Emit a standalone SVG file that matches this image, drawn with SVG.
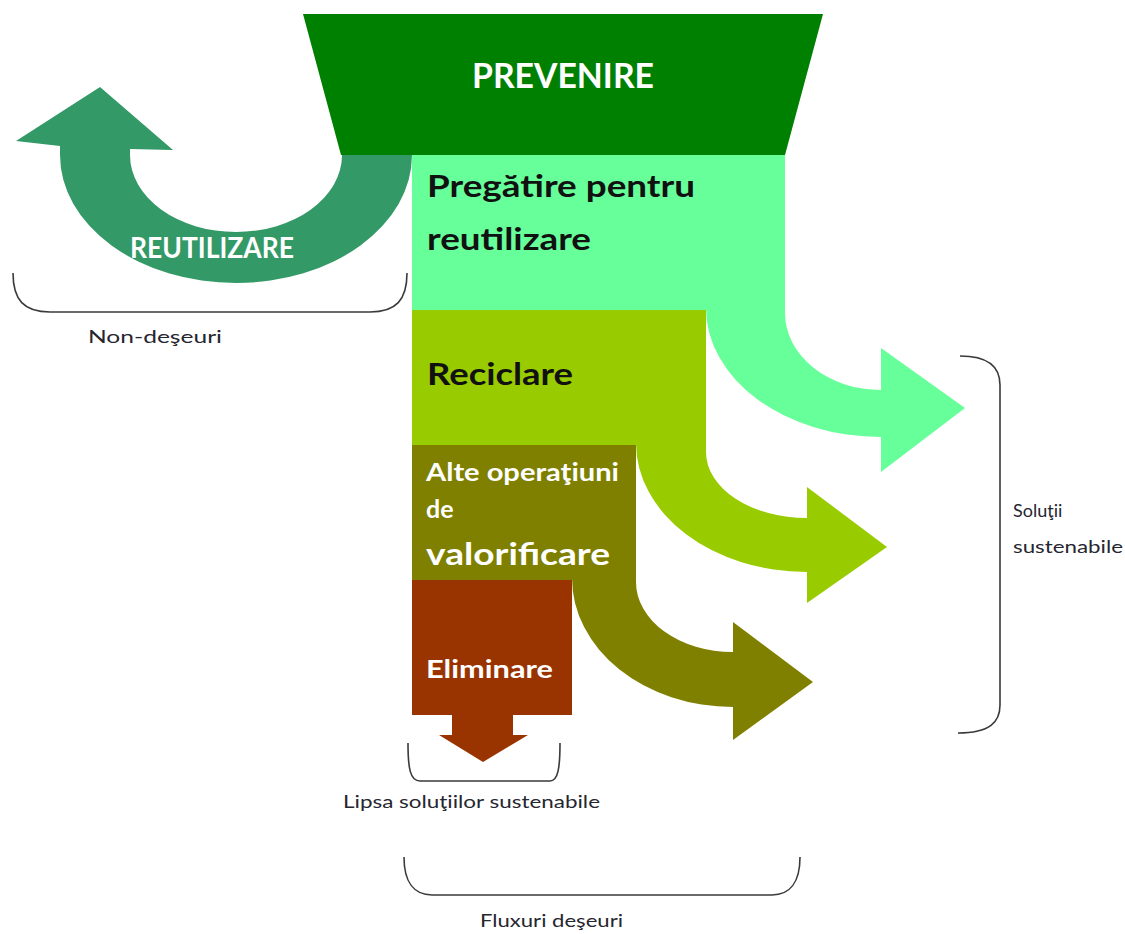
<svg xmlns="http://www.w3.org/2000/svg" width="1125" height="934" viewBox="0 0 1125 934">
<style>
.lbl{font-family:Lato,"Open Sans","Liberation Sans",sans-serif;font-weight:700}
.w{fill:#ffffff}
.k{fill:#111111}
.sm{font-family:Lato,"Open Sans","Liberation Sans",sans-serif;font-size:18px;fill:#262630}
.br{fill:none;stroke:#3a3a3a;stroke-width:1.6}
</style>
<rect width="1125" height="934" fill="#ffffff"/>
<g id="connectors">
  <path id="arrow-reutilizare" fill="#339966" d="M412,155 A176,128 0 0 1 60,155 L60,146 L16,141 L100,87 L173,150 L130,149 L130,155 A106,77 0 0 0 342,155 Z"/>
  <path id="arrow-pregatire" fill="#66FF99" d="M706,308 A175,129 0 0 0 881,437 L881,472 L965,408 L881,348 L881,390 A96,77 0 0 1 785,313 L785,308 Z"/>
  <path id="arrow-reciclare" fill="#99CC00" d="M636,443 A171,129 0 0 0 807,572 L807,603 L887,547 L807,487 L807,518 A101,66 0 0 1 706,452 L706,443 Z"/>
  <path id="arrow-alte" fill="#808000" d="M572,578 A161,129 0 0 0 733,707 L733,740 L813,682 L733,622 L733,652 A97,70 0 0 1 636,582 L636,578 Z"/>
  <path id="arrow-eliminare" fill="#993300" d="M452,713 L513,713 L513,735 L528,735 L483,762 L439,735 L452,735 Z"/>
</g>
<g id="node-prevenire">
  <polygon fill="#008000" points="303,14 823,14 785,155 341,155"/>
  <text class="lbl w" x="563" y="88" font-size="34" text-anchor="middle" textLength="182" lengthAdjust="spacingAndGlyphs">PREVENIRE</text>
</g>
<g id="node-pregatire">
  <rect x="412" y="155" width="373" height="155" fill="#66FF99"/>
  <text class="lbl k" x="427" y="197" font-size="31" textLength="268" lengthAdjust="spacingAndGlyphs">Pregătire pentru</text>
  <text class="lbl k" x="427" y="250" font-size="31" textLength="164" lengthAdjust="spacingAndGlyphs">reutilizare</text>
</g>
<g id="node-reciclare">
  <rect x="412" y="310" width="294" height="135" fill="#99CC00"/>
  <text class="lbl k" x="427" y="385" font-size="31" textLength="146" lengthAdjust="spacingAndGlyphs">Reciclare</text>
</g>
<g id="node-alte">
  <rect x="412" y="445" width="224" height="135" fill="#808000"/>
  <text class="lbl w" x="426" y="481" font-size="25" textLength="193" lengthAdjust="spacingAndGlyphs">Alte operaţiuni</text>
  <text class="lbl w" x="426" y="518" font-size="25">de</text>
  <text class="lbl w" x="426" y="565" font-size="31" font-weight="600" textLength="184" lengthAdjust="spacingAndGlyphs">valorificare</text>
</g>
<g id="node-eliminare">
  <rect x="412" y="580" width="160" height="135" fill="#993300"/>
  <text class="lbl w" x="426" y="678" font-size="25" textLength="127" lengthAdjust="spacingAndGlyphs">Eliminare</text>
</g>
<g id="label-reutilizare">
  <text class="lbl w" x="212" y="258" font-size="28" text-anchor="middle" textLength="164" lengthAdjust="spacingAndGlyphs">REUTILIZARE</text>
</g>
<g id="brackets">
  <path class="br" d="M13,273 C13,300 24,312 50,312 L370,312 C396,312 407,300 407,273"/>
  <path class="br" d="M960,356 C990,356 1000,368 1000,385 L1000,705 C1000,722 990,733 958,733"/>
  <path class="br" d="M408,743 C408,768 410,781 420,781 L550,781 C558,781 560,768 560,743"/>
  <path class="br" d="M404,857 C404,882 414,895 432,895 L772,895 C790,895 800,882 800,857"/>
</g>
<g id="captions">
  <text class="sm" x="88" y="343" textLength="134" lengthAdjust="spacingAndGlyphs">Non-deşeuri</text>
  <text class="sm" x="1013" y="517">Soluţii</text>
  <text class="sm" x="1013" y="553" textLength="110" lengthAdjust="spacingAndGlyphs">sustenabile</text>
  <text class="sm" x="343" y="808" textLength="257" lengthAdjust="spacingAndGlyphs">Lipsa soluţiilor sustenabile</text>
  <text class="sm" x="480" y="927" textLength="143" lengthAdjust="spacingAndGlyphs">Fluxuri deşeuri</text>
</g>
</svg>
